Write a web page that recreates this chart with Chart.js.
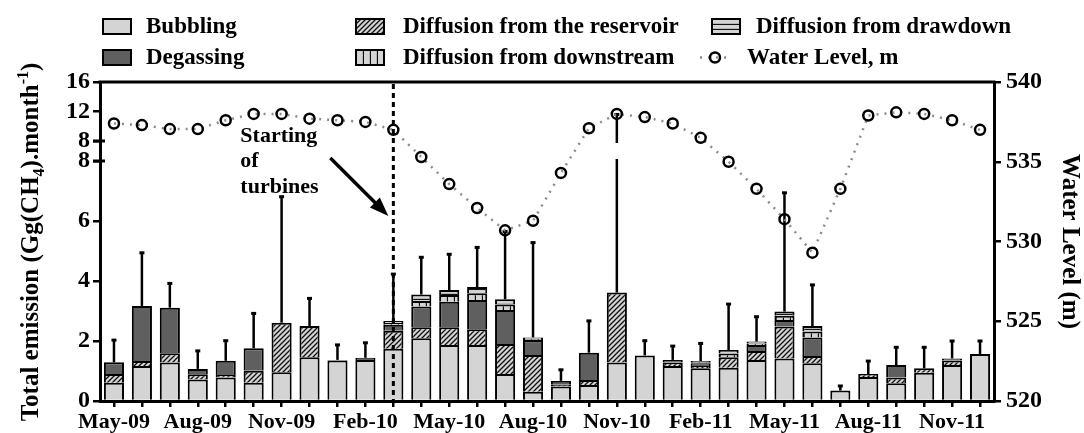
<!DOCTYPE html>
<html>
<head>
<meta charset="utf-8">
<script src="https://cdn.jsdelivr.net/npm/chart.js@4.4.0/dist/chart.umd.min.js"></script>
<style>
  body { margin: 0; background: #fff; }
  #wrap { width: 1084px; height: 433px; position: relative; }
</style>
</head>
<body>
<div id="wrap"><canvas id="emissionChart"></canvas></div>
<script>
const months = ['May-09', 'Jun-09', 'Jul-09', 'Aug-09', 'Sep-09', 'Oct-09', 'Nov-09', 'Dec-09',
  'Jan-10', 'Feb-10', 'Mar-10', 'Apr-10', 'May-10', 'Jun-10', 'Jul-10', 'Aug-10', 'Sep-10', 'Oct-10',
  'Nov-10', 'Dec-10', 'Jan-11', 'Feb-11', 'Mar-11', 'Apr-11', 'May-11', 'Jun-11', 'Jul-11', 'Aug-11',
  'Sep-11', 'Oct-11', 'Nov-11', 'Dec-11'];

const bubbling = [0.61, 1.17, 1.28, 0.72, 0.78, 0.61, 0.96, 1.46, 1.35, 1.37, 1.74, 2.09, 1.87, 1.87, 0.9, 0.31,
  0.48, 0.53, 1.28, 1.52, 1.17, 1.09, 1.11, 1.37, 1.42, 1.26, 0.35, 0.8, 0.59, 0.94, 1.2, 1.57];
const reservoir = [0.29, 0.16, 0.31, 0.17, 0.09, 0.4, 1.65, 1.04, null, null, 0.6, 0.37, 0.59, 0.52, 1.0, 1.22,
  0.06, 0.17, 2.34, null, 0.11, 0.08, 0.35, 0.3, 1.06, 0.24, null, 0.1, 0.19, 0.15, 0.15, null];
const degassing = [0.39, 1.84, 1.52, 0.18, 0.47, 0.75, null, null, 0.02, 0.07, 0.2, 0.69, 0.85, 0.98, 1.13, 0.5,
  0.13, 0.91, null, null, 0.09, 0.09, null, 0.2, 0.22, 0.62, null, null, 0.42, null, 0.07, null];
const downstream = [null, null, null, null, null, null, null, null, null, null, 0.06, 0.18, 0.22, 0.22, 0.19, 0.04,
  null, null, null, null, null, 0.03, 0.12, 0.05, 0.14, 0.2, null, null, null, null, null, null];
const drawdown = [null, null, null, null, null, null, null, null, null, null, 0.07, 0.22, 0.17, 0.21, 0.17, 0.05,
  null, null, null, null, null, 0.04, 0.12, 0.06, 0.14, 0.18, null, null, null, null, null, null];
// upper end of the error whisker (total emission + error)
const errorTop = [2.03, 4.94, 3.92, 1.67, 2.01, 2.92, 6.81, 3.42, 1.87, 1.94, 4.23, 4.79, 4.89, 5.12, 5.65, 5.28,
  1.04, 2.67, 11.6, 2.01, 1.83, 1.92, 3.23, 2.81, 6.94, 3.87, 0.5, 1.33, 1.79, 1.79, 2.0, 2.0];
const waterLevel = [537.4, 537.3, 537.05, 537.05, 537.6, 538.0, 538.0, 537.7, 537.6, 537.5, 537.0, 535.3, 533.6,
  532.1, 530.7, 531.3, 534.3, 537.1, 538.0, 537.8, 537.4, 536.5, 535.0, 533.3, 531.4, 529.3, 533.3, 537.9,
  538.1, 538.0, 537.6, 537.0];

// left axis is broken at 8: 0-8 below, 8-16 compressed above
const leftTicks = [0, 2, 4, 6, 8, 8.001, 12, 16];
const rightTicks = [520, 525, 530, 535, 540];
const turbineMonth = 'Mar-10';

const FONT = 'Liberation Serif';
const LOW_FRAC = 240 / 319;
const GAP_FRAC = 20 / 319;

class BrokenScale extends Chart.LinearScale {
  getPixelForValue(value) {
    const h = this.bottom - this.top;
    const lowH = h * LOW_FRAC;
    const upH = h * (1 - LOW_FRAC - GAP_FRAC);
    if (value <= 8) return this.bottom - value / 8 * lowH;
    return this.top + upH - (value - 8) / 8 * upH;
  }
  getValueForPixel(pixel) {
    const h = this.bottom - this.top;
    const lowH = h * LOW_FRAC;
    const upH = h * (1 - LOW_FRAC - GAP_FRAC);
    if (pixel >= this.bottom - lowH) return (this.bottom - pixel) / lowH * 8;
    return 8 + (this.top + upH - pixel) / upH * 8;
  }
}
BrokenScale.id = 'broken';
BrokenScale.defaults = Chart.LinearScale.defaults;
Chart.register(BrokenScale);

const canvas = document.getElementById('emissionChart');
const mainCtx = canvas.getContext('2d');

function makePattern(kind) {
  const c = document.createElement('canvas');
  const s = kind === 'vert' ? 7 : 5;
  c.width = s; c.height = s;
  const g = c.getContext('2d');
  g.fillStyle = '#d4d4d4';
  g.fillRect(0, 0, s, s);
  g.strokeStyle = '#111';
  g.lineWidth = 1.3;
  g.beginPath();
  if (kind === 'diag') {
    g.moveTo(0, s); g.lineTo(s, 0);
    g.moveTo(-1, 1); g.lineTo(1, -1);
    g.moveTo(s - 1, s + 1); g.lineTo(s + 1, s - 1);
  } else if (kind === 'horiz') {
    g.moveTo(0, s - 0.5); g.lineTo(s, s - 0.5);
  } else {
    g.moveTo(s - 0.5, 0); g.lineTo(s - 0.5, s);
  }
  g.stroke();
  return mainCtx.createPattern(c, 'repeat');
}

const colBubbling = '#d4d4d4';
const colDegassing = '#5f5f5f';
const patReservoir = makePattern('diag');
const patDrawdown = makePattern('horiz');
const patDownstream = makePattern('vert');

function barSet(label, data, fill) {
  return {
    type: 'bar', label, data, backgroundColor: fill, borderColor: '#000', borderWidth: 2,
    barPercentage: 0.72, categoryPercentage: 1, order: 1
  };
}

function drawRich(ctx, parts, size) {
  let w = 0;
  parts.forEach(p => {
    ctx.font = `bold ${p.sub || p.sup ? Math.round(size * 0.65) : size}px "${FONT}"`;
    p.w = ctx.measureText(p.t).width;
    w += p.w;
  });
  let x = -w / 2;
  parts.forEach(p => {
    ctx.font = `bold ${p.sub || p.sup ? Math.round(size * 0.65) : size}px "${FONT}"`;
    const dy = p.sub ? size * 0.22 : p.sup ? -size * 0.42 : 0;
    ctx.fillText(p.t, x, dy);
    x += p.w;
  });
}

const extras = {
  id: 'extras',
  beforeDatasetsDraw(chart) {
    const { ctx, scales: { x, y } } = chart;
    ctx.save();
    ctx.strokeStyle = '#000';
    for (let i = 0; i < months.length; i++) {
      const total = [bubbling, reservoir, degassing, downstream, drawdown]
        .reduce((s, arr) => s + (arr[i] || 0), 0);
      const px = x.getPixelForValue(i);
      const yBar = y.getPixelForValue(total);
      const yErr = y.getPixelForValue(errorTop[i]);
      ctx.lineWidth = 2.5;
      ctx.beginPath();
      if (errorTop[i] > 8 && total < 8) {
        ctx.moveTo(px, yBar); ctx.lineTo(px, y.getPixelForValue(8) - 2);
        ctx.moveTo(px, y.getPixelForValue(8.001) + 2); ctx.lineTo(px, yErr);
      } else {
        ctx.moveTo(px, yBar); ctx.lineTo(px, yErr);
      }
      ctx.stroke();
      ctx.lineWidth = 3;
      ctx.beginPath();
      ctx.moveTo(px - 2.5, yErr); ctx.lineTo(px + 2.5, yErr);
      ctx.stroke();
    }
    ctx.restore();
  },
  afterDatasetsDraw(chart) {
    const { ctx, chartArea: a, scales: { x } } = chart;
    const lineX = x.getPixelForValue(months.indexOf(turbineMonth));
    ctx.save();
    // frame top
    ctx.strokeStyle = '#000';
    ctx.lineWidth = 3;
    ctx.beginPath();
    ctx.moveTo(a.left - 1.5, a.top); ctx.lineTo(a.right + 1.5, a.top);
    ctx.stroke();
    // turbine start
    ctx.lineWidth = 3;
    ctx.setLineDash([5, 4]);
    ctx.beginPath();
    ctx.moveTo(lineX, a.top + 2); ctx.lineTo(lineX, a.bottom);
    ctx.stroke();
    ctx.setLineDash([]);
    // arrow
    const ax0 = lineX - 63, ay0 = 158, ax1 = lineX - 5, ay1 = 216;
    const ang = Math.atan2(ay1 - ay0, ax1 - ax0);
    const c = Math.cos(ang), s = Math.sin(ang);
    ctx.lineWidth = 3.5;
    ctx.beginPath();
    ctx.moveTo(ax0, ay0); ctx.lineTo(ax1 - 14 * c, ay1 - 14 * s);
    ctx.stroke();
    ctx.fillStyle = '#000';
    ctx.beginPath();
    ctx.moveTo(ax1, ay1);
    ctx.lineTo(ax1 - 19 * c - 7 * s, ay1 - 19 * s + 7 * c);
    ctx.lineTo(ax1 - 19 * c + 7 * s, ay1 - 19 * s - 7 * c);
    ctx.closePath();
    ctx.fill();
    ctx.font = `bold 22px "${FONT}"`;
    ctx.textAlign = 'left';
    ctx.textBaseline = 'alphabetic';
    ctx.fillText('Starting', lineX - 153, 142);
    ctx.fillText('of', lineX - 153, 167);
    ctx.fillText('turbines', lineX - 153, 193);
    ctx.restore();
  },
  afterDraw(chart) {
    const { ctx, chartArea: a } = chart;
    ctx.save();
    ctx.fillStyle = '#000';
    // axis titles
    ctx.textBaseline = 'alphabetic';
    ctx.textAlign = 'left';
    ctx.save();
    ctx.translate(38, (a.top + a.bottom) / 2 + 0.5);
    ctx.rotate(-Math.PI / 2);
    drawRich(ctx, [{ t: 'Total emission (Gg(CH' }, { t: '4', sub: true }, { t: ').month' },
      { t: '-1', sup: true }, { t: ')' }], 25);
    ctx.restore();
    ctx.save();
    ctx.translate(1063, (a.top + a.bottom) / 2);
    ctx.rotate(Math.PI / 2);
    drawRich(ctx, [{ t: 'Water Level (m)' }], 25);
    ctx.restore();

    // legend
    const rows = [26.5, 57.5];
    const items = [
      { label: 'Bubbling', fill: colBubbling, bx: 103, tx: 146, row: 0 },
      { label: 'Degassing', fill: colDegassing, bx: 103, tx: 146, row: 1 },
      { label: 'Diffusion from the reservoir', fill: patReservoir, bx: 356, tx: 403, row: 0 },
      { label: 'Diffusion from downstream', fill: patDownstream, bx: 356, tx: 403, row: 1 },
      { label: 'Diffusion from drawdown', fill: patDrawdown, bx: 712, tx: 756, row: 0 }
    ];
    ctx.font = `bold 23px "${FONT}"`;
    ctx.textBaseline = 'middle';
    items.forEach(it => {
      const yc = rows[it.row];
      ctx.fillStyle = it.fill;
      ctx.fillRect(it.bx, yc - 7.5, 28, 15);
      ctx.strokeStyle = '#000';
      ctx.lineWidth = 2;
      ctx.strokeRect(it.bx, yc - 7.5, 28, 15);
      ctx.fillStyle = '#000';
      ctx.fillText(it.label, it.tx, yc + 1);
    });
    const wy = rows[1];
    ctx.strokeStyle = '#8c8c8c';
    ctx.lineWidth = 2.5;
    ctx.setLineDash([2, 6]);
    ctx.beginPath();
    ctx.moveTo(700, wy); ctx.lineTo(731, wy);
    ctx.stroke();
    ctx.setLineDash([]);
    ctx.strokeStyle = '#000';
    ctx.beginPath();
    ctx.arc(715, wy, 5, 0, Math.PI * 2);
    ctx.stroke();
    ctx.fillStyle = '#000';
    ctx.fillText('Water Level, m', 747, wy + 1);

    // break marks on the left axis
    const y = chart.scales.y;
    ctx.lineWidth = 3;
    [8, 8.001].forEach(v => {
      const py = y.getPixelForValue(v);
      ctx.beginPath();
      ctx.moveTo(a.left - 7, py); ctx.lineTo(a.left + 5, py);
      ctx.stroke();
    });
    ctx.restore();
  }
};

const tickFont = { family: FONT, size: 24, weight: 'bold' };

new Chart(canvas, {
  type: 'bar',
  data: {
    labels: months,
    datasets: [
      {
        type: 'line', label: 'Water Level, m', data: waterLevel, yAxisID: 'y2', order: 0,
        borderColor: '#8c8c8c', borderWidth: 2.5, borderDash: [2, 6], tension: 0, fill: false,
        pointRadius: 5, pointBorderWidth: 2.5, pointBorderColor: '#000',
        pointBackgroundColor: 'rgba(0,0,0,0)'
      },
      barSet('Bubbling', bubbling, colBubbling),
      barSet('Diffusion from the reservoir', reservoir, patReservoir),
      barSet('Degassing', degassing, colDegassing),
      barSet('Diffusion from downstream', downstream, patDownstream),
      barSet('Diffusion from drawdown', drawdown, patDrawdown)
    ]
  },
  options: {
    responsive: true,
    maintainAspectRatio: false,
    animation: false,
    layout: { padding: { top: 82, left: 0, right: 0, bottom: 0 } },
    plugins: { legend: { display: false }, tooltip: { enabled: false } },
    scales: {
      x: {
        stacked: true,
        offset: true,
        grid: { drawOnChartArea: false, offset: false, color: '#000', lineWidth: 2.5, tickLength: 6 },
        border: { color: '#000', width: 3 },
        ticks: {
          autoSkip: false, maxRotation: 0, color: '#000', padding: 2,
          font: { family: FONT, size: 22, weight: 'bold' },
          callback: function (v, i) { return i % 3 === 0 ? this.getLabelForValue(v) : ''; }
        },
        afterFit(s) { s.height = 32; }
      },
      y: {
        type: 'broken',
        stacked: true,
        position: 'left',
        min: 0,
        max: 16,
        afterBuildTicks(s) { s.ticks = leftTicks.map(v => ({ value: v })); },
        grid: { drawOnChartArea: false, color: '#000', lineWidth: 2.5, tickLength: 7 },
        border: { color: '#000', width: 3 },
        ticks: { autoSkip: false, color: '#000', padding: 3, font: tickFont, callback: v => Math.round(v) },
        afterFit(s) { s.width = 100; }
      },
      y2: {
        type: 'linear',
        position: 'right',
        min: 520,
        max: 540,
        afterBuildTicks(s) { s.ticks = rightTicks.map(v => ({ value: v })); },
        grid: { drawOnChartArea: false, color: '#000', lineWidth: 2.5, tickLength: 7 },
        border: { color: '#000', width: 3 },
        ticks: { autoSkip: false, color: '#000', padding: 5, font: tickFont },
        afterFit(s) { s.width = 90; }
      }
    }
  },
  plugins: [extras]
});
</script>
</body>
</html>
